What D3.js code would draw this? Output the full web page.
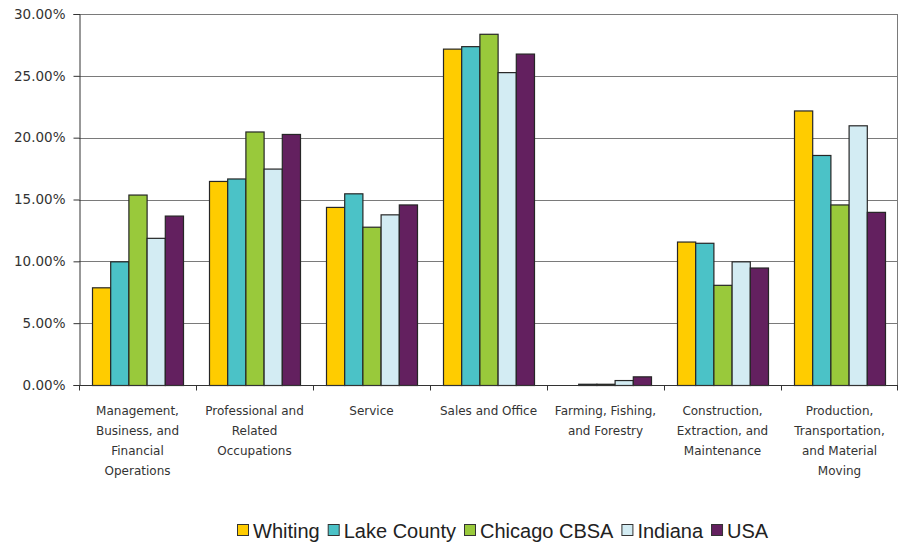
<!DOCTYPE html>
<meta charset="utf-8">
<title>Occupation Shares</title>
<style>
body { margin: 0; background: #fff; }
.grid line { stroke: #7a7a7a; stroke-width: 1; }
.axis text { fill: #333; }
</style>
<svg width="899" height="544"></svg>
<script src="https://d3js.org/d3.v7.min.js"></script>
<script>
var categories = [
  ["Management,", "Business, and", "Financial", "Operations"],
  ["Professional and", "Related", "Occupations"],
  ["Service"],
  ["Sales and Office"],
  ["Farming, Fishing,", "and Forestry"],
  ["Construction,", "Extraction, and", "Maintenance"],
  ["Production,", "Transportation,", "and Material", "Moving"]
];
var seriesNames = ["Whiting", "Lake County", "Chicago CBSA", "Indiana", "USA"];
var whiting = [7.9, 16.5, 14.4, 27.2, 0.0, 11.6, 22.2];
var lakeCounty = [10.0, 16.7, 15.5, 27.4, 0.1, 11.5, 18.6];
var chicago = [15.4, 20.5, 12.8, 28.4, 0.1, 8.1, 14.6];
var indiana = [11.9, 17.5, 13.8, 25.3, 0.4, 10.0, 21.0];
var usa = [13.7, 20.3, 14.6, 26.8, 0.7, 9.5, 14.0];
var yTicks = [0, 5, 10, 15, 20, 25, 30];
var colors = ["#ffcc00", "#4bc2c7", "#99c93b", "#d3ecf3", "#63205f"];

var series = [whiting, lakeCounty, chicago, indiana, usa];

var svg = d3.select("svg");
var mLeft = 79, mRight = 898, mTop = 14, mBottom = 385;

var x = d3.scaleBand().domain(d3.range(categories.length)).range([mLeft, mRight]).paddingInner(0).paddingOuter(0);
var inner = d3.scaleBand().domain(d3.range(seriesNames.length)).range([13, x.bandwidth() - 13]);
var y = d3.scaleLinear().domain([0, 30]).range([mBottom, mTop]);

// gridlines
svg.append("g").attr("class", "grid")
  .selectAll("line").data(yTicks.slice(1)).enter().append("line")
  .attr("x1", mLeft).attr("x2", mRight)
  .attr("y1", function(d) { return Math.round(y(d)) + 0.5; })
  .attr("y2", function(d) { return Math.round(y(d)) + 0.5; });

svg.append("line")
  .attr("x1", mRight - 0.5).attr("x2", mRight - 0.5)
  .attr("y1", mTop).attr("y2", mBottom)
  .attr("stroke", "#7a7a7a");

// bars
var groups = svg.append("g").selectAll("g").data(d3.range(categories.length)).enter().append("g")
  .attr("transform", function(i) { return "translate(" + x(i) + ",0)"; });

groups.selectAll("rect").data(function(i) {
    return series.map(function(s, k) { return {k: k, v: s[i]}; });
  }).enter().append("rect")
  .attr("x", function(d) { return inner(d.k) + 0.5; })
  .attr("y", function(d) { return y(d.v) + 0.5; })
  .attr("width", inner.bandwidth())
  .attr("height", function(d) { return Math.max(0, mBottom - y(d.v)); })
  .attr("fill", function(d) { return colors[d.k]; })
  .attr("stroke", "#262626")
  .attr("stroke-width", 1.2);

// y axis
var yAxis = svg.append("g").attr("class", "axis")
  .attr("transform", "translate(" + (mLeft + 0.5) + ",0)")
  .call(d3.axisLeft(y).tickValues(yTicks).tickSize(6).tickPadding(8)
    .tickFormat(function(d) { return d.toFixed(2) + "%"; }));
yAxis.selectAll("text").style("font-family", "'DejaVu Sans', sans-serif").style("font-size", "13.5px");
yAxis.selectAll("line, path").attr("stroke", "#333");

// x axis
var xAxis = svg.append("g").attr("class", "axis")
  .attr("transform", "translate(0," + (mBottom + 0.5) + ")");
xAxis.append("line").attr("x1", mLeft).attr("x2", mRight).attr("stroke", "#333");
xAxis.selectAll(".tk").data(d3.range(categories.length + 1)).enter().append("line")
  .attr("x1", function(i) { return (i < categories.length ? x(i) : mRight - 1) + 0.5; })
  .attr("x2", function(i) { return (i < categories.length ? x(i) : mRight - 1) + 0.5; })
  .attr("y1", 0).attr("y2", 5).attr("stroke", "#333");

var labels = xAxis.selectAll(".lbl").data(categories).enter().append("text")
  .attr("text-anchor", "middle")
  .attr("transform", function(d, i) { return "translate(" + (x(i) + x.bandwidth() / 2) + ",0)"; })
  .style("font-family", "'DejaVu Sans', sans-serif")
  .style("font-size", "12px")
  .attr("fill", "#333");
labels.selectAll("tspan").data(function(d) { return d; }).enter().append("tspan")
  .attr("x", 0)
  .attr("y", function(d, j) { return 29 + j * 20; })
  .text(function(d) { return d; });

// legend
var legend = svg.append("g").attr("transform", "translate(0,531)");
var lx = 237;
seriesNames.forEach(function(name, k) {
  legend.append("rect").attr("x", lx + 0.5).attr("y", -6.5).attr("width", 11).attr("height", 11)
    .attr("fill", colors[k]).attr("stroke", "#333");
  var t = legend.append("text").attr("x", lx + 16).attr("y", 6.5)
    .style("font-family", "'Liberation Sans', Arial, sans-serif").style("font-size", "20px")
    .attr("fill", "#222").text(name);
  lx += 16 + t.node().getComputedTextLength() + 8;
});
</script>
